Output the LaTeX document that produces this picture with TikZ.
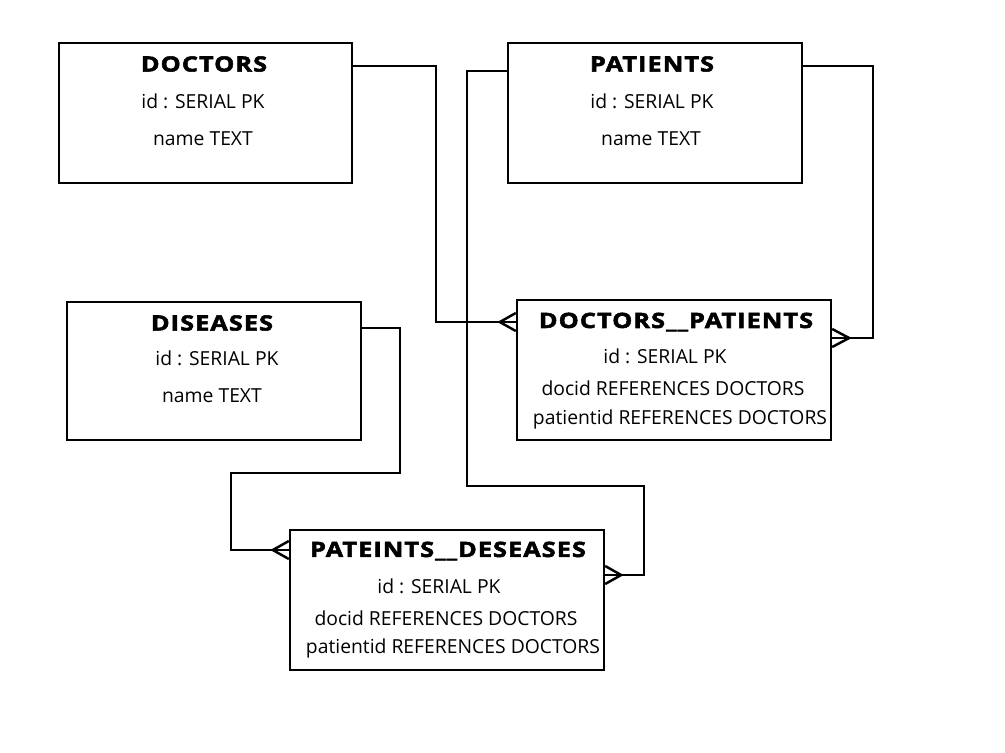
\documentclass[tikz,border=0pt]{standalone}
\usepackage{fontspec}
\setmainfont{Open Sans}
\newfontfamily\titlefont[FakeStretch=1.2,FakeBold=2.5,LetterSpace=5]{Open Sans}
\usetikzlibrary{positioning,calc}

\begin{document}
\begin{tikzpicture}[x=0.02cm,y=-0.02cm]
    \tikzset{
      table/.style={rectangle,draw=black,line width=1.4pt,inner sep=0pt},
      tabletitle/.style={inner sep=0pt,font=\titlefont\bfseries\fontsize{12}{14}\selectfont},
      field/.style={inner sep=0pt,font=\fontsize{11}{13}\selectfont},
      link/.style={line width=1.4pt,line join=miter}
    }
    \useasboundingbox (0,0) rectangle (1005,752);

    % tables
    \node[table,minimum width=5.86cm,minimum height=2.8cm](doctors) at (205.5,113){};
    \node[table,minimum width=5.88cm,minimum height=2.8cm](patients) at (655,113){};
    \node[table,minimum width=5.88cm,minimum height=2.76cm](diseases) at (214,371){};
    \node[table,minimum width=6.28cm,minimum height=2.8cm](docpat) at (674,370){};
    \node[table,minimum width=6.28cm,minimum height=2.8cm](patdis) at (447,600){};

    % fields
    \node[tabletitle](doctors-title) at (204,64){DOCTORS};
    \node[field](doctors-id) at (203,101){id : SERIAL PK};
    \node[field](doctors-name) at (203,139){name TEXT};

    \node[tabletitle](patients-title) at (652,64){PATIENTS};
    \node[field](patients-id) at (652,101){id : SERIAL PK};
    \node[field](patients-name) at (651,139){name TEXT};

    \node[tabletitle](diseases-title) at (212,323){DISEASES};
    \node[field](diseases-id) at (217,358){id : SERIAL PK};
    \node[field](diseases-name) at (212,396){name TEXT};

    \node[tabletitle](docpat-title) at (676,322){DOCTORS\_\_PATIENTS};
    \node[field](docpat-id) at (665,356){id : SERIAL PK};
    \node[field](docpat-docid) at (673,388){docid REFERENCES DOCTORS};
    \node[field](docpat-patid) at (680,419){patientid REFERENCES DOCTORS};

    \node[tabletitle](patdis-title) at (448,551){PATEINTS\_\_DESEASES};
    \node[field](patdis-id) at (439,586){id : SERIAL PK};
    \node[field](patdis-docid) at (446,618){docid REFERENCES DOCTORS};
    \node[field](patdis-patid) at (453,648){patientid REFERENCES DOCTORS};

    % relations
    \draw[link]($(doctors.north east)+(0,24)$) -| ($(docpat.west)+(-80,-48)$) -- ($(docpat.west)+(0,-48)$);
    \draw[link]($(docpat.west)+(0,-57)$) -- ++(-16,9) -- ++(16,9);

    \draw[link]($(patients.north east)+(0,24)$) -| ($(docpat.east)+(41,-32)$) -- ($(docpat.east)+(0,-32)$);
    \draw[link]($(docpat.east)+(0,-41)$) -- ++(17,9) -- ++(-17,9);

    \draw[link]($(patients.north west)+(0,29)$) -| ($(patdis.north east)+(-138,-43)$) -| ($(patdis.east)+(39,-25)$) -- ($(patdis.east)+(0,-25)$);
    \draw[link]($(patdis.east)+(0,-34)$) -- ++(16,9) -- ++(-16,9);

    \draw[link]($(diseases.north east)+(0,27)$) -| ($(patdis.north west)+(111,-56)$) -| ($(patdis.west)+(-58,-50)$) -- ($(patdis.west)+(0,-50)$);
    \draw[link]($(patdis.west)+(0,-59)$) -- ++(-16,9) -- ++(16,9);

  \end{tikzpicture}
\end{document}
